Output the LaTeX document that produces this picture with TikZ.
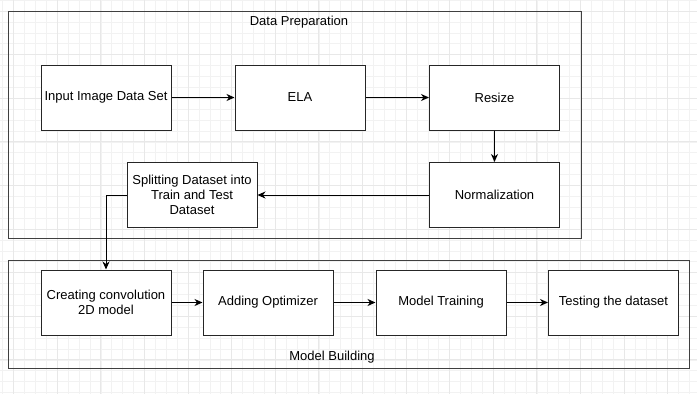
\documentclass[tikz,border=0pt]{standalone}
\usepackage{fontspec}
\setmainfont{Liberation Sans}
\usepackage{tikz}
\usetikzlibrary{arrows.meta}

\begin{document}
\begin{tikzpicture}[x=1pt,y=-1pt]
\tikzstyle{box}=[draw=black!85, fill=white, line width=1pt, minimum width=130pt, minimum height=65pt, align=center, inner sep=1pt, font=\fontsize{13}{15}\selectfont];
\tikzstyle{group}=[draw=black!75, line width=1pt];
\tikzstyle{title}=[inner sep=0pt, font=\fontsize{13}{15}\selectfont];
\tikzstyle{flow}=[-{Stealth[length=8pt,width=7pt,inset=2.5pt]}, line width=1pt];
\useasboundingbox (0,0) rectangle (697,394);
% background grid
  \foreach \i in {0,...,63}
    \draw[black!5, line width=0.6pt] ({2.7+10.9*\i},0) -- ({2.7+10.9*\i},394);
  \foreach \j in {0,...,36}
    \draw[black!5, line width=0.6pt] (0,{0.1+10.9*\j}) -- (697,{0.1+10.9*\j});
  \foreach \k in {0,...,15}
    \draw[black!9, line width=0.7pt] ({13.6+43.6*\k},0) -- ({13.6+43.6*\k},394);
  \foreach \k in {0,...,8}
    \draw[black!9, line width=0.7pt] (0,{11+43.6*\k}) -- (697,{11+43.6*\k});
% groups
   \draw[group] (8,11) rectangle (581,238);
   \draw[group] (8,260) rectangle (689,368);
   \node[title] (t1) at (299,22) {Data Preparation};
   \node[title] (t2) at (332,357) {Model Building};
% steps
   \node[box] (n1) at (106,97.5) {Input Image Data Set};
   \node[box] (n2) at (300,97.5) {ELA};
   \node[box] (n3) at (494.5,97.5) {Resize};
   \node[box] (n4) at (494.5,195) {Normalization};
   \node[box] (n5) at (192,195) {Splitting Dataset into\\Train and Test\\Dataset};
   \node[box] (n6) at (106,302.5) {Creating convolution\\2D model};
   \node[box] (n7) at (268,302.5) {Adding Optimizer};
   \node[box] (n8) at (441,302.5) {Model Training};
   \node[box] (n9) at (613.5,302.5) {Testing the dataset};
  \foreach \from/\to in {n1/n2,n2/n3,n3/n4,n4/n5,n6/n7,n7/n8,n8/n9}
    \draw[flow] (\from) -- (\to);
  \draw[flow] (n5.west) -| (n6.north);
\end{tikzpicture}
\end{document}
